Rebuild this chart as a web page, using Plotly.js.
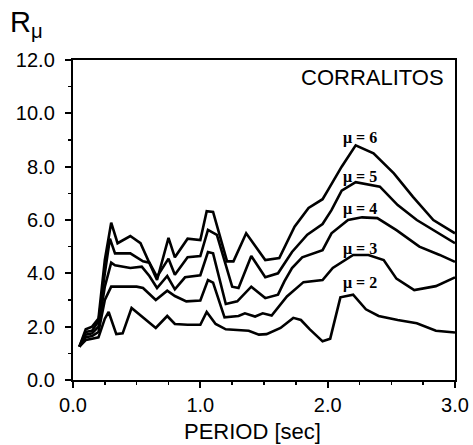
<!DOCTYPE html>
<html>
<head>
<meta charset="utf-8">
<script src="https://cdn.plot.ly/plotly-3.0.1.min.js"></script>
<style>html,body{margin:0;padding:0;background:#fff;}#chart{width:473px;height:445px;}</style>
</head>
<body>
<div id="chart"></div>
<script>
// Strength reduction factor R_mu vs period, CORRALITOS record
const periodMu2 = [0.05,0.1,0.15,0.2,0.25,0.28,0.34,0.39,0.46,0.55,0.65,0.74,0.8,0.9,1.0,1.05,1.12,1.2,1.3,1.38,1.46,1.52,1.63,1.73,1.79,1.86,1.96,2.02,2.1,2.2,2.3,2.4,2.55,2.7,2.85,3.0];
const rMu2      = [1.25,1.5,1.55,1.6,2.3,2.55,1.72,1.75,2.7,2.35,1.95,2.4,2.1,2.07,2.07,2.55,2.1,1.9,1.87,1.85,1.7,1.72,1.95,2.33,2.25,1.9,1.45,1.55,3.1,3.2,2.65,2.4,2.25,2.13,1.85,1.78];

const periodMu3 = [0.05,0.1,0.15,0.2,0.25,0.3,0.4,0.5,0.55,0.65,0.74,0.8,0.89,1.0,1.06,1.1,1.19,1.3,1.35,1.43,1.49,1.56,1.68,1.81,1.96,2.04,2.2,2.32,2.44,2.54,2.68,2.85,3.0];
const rMu3      = [1.25,1.6,1.65,1.8,3.0,3.5,3.5,3.5,3.45,3.0,3.35,3.15,2.95,2.98,3.75,3.65,2.35,2.4,2.5,2.38,2.5,2.42,3.13,3.67,3.75,4.2,4.69,4.69,4.5,3.8,3.37,3.52,3.85];

const periodMu4 = [0.05,0.1,0.15,0.2,0.25,0.3,0.33,0.45,0.54,0.6,0.66,0.74,0.8,0.88,1.0,1.06,1.1,1.2,1.29,1.4,1.51,1.61,1.66,1.72,1.8,1.96,2.03,2.16,2.27,2.39,2.54,2.72,2.88,3.0];
const rMu4      = [1.25,1.7,1.75,2.0,3.5,4.4,4.3,4.2,4.25,3.9,3.45,3.9,3.4,3.85,3.93,4.8,4.75,2.85,2.95,3.5,3.07,3.2,3.7,4.2,4.6,4.87,5.5,6.0,6.1,6.07,5.62,5.0,4.69,4.43];

const periodMu5 = [0.05,0.1,0.15,0.2,0.25,0.29,0.33,0.45,0.55,0.6,0.66,0.75,0.8,0.9,1.0,1.06,1.13,1.25,1.3,1.4,1.51,1.61,1.72,1.84,1.96,2.03,2.11,2.22,2.41,2.55,2.7,2.83,3.0];
const rMu5      = [1.25,1.8,1.85,2.2,4.0,5.3,4.75,4.75,4.45,4.4,3.87,4.55,3.95,4.6,4.65,5.63,5.44,3.5,3.45,4.65,3.85,4.0,4.8,5.45,5.85,6.37,7.1,7.42,7.25,6.56,6.0,5.62,5.13];

const periodMu6 = [0.05,0.1,0.15,0.2,0.25,0.3,0.35,0.45,0.53,0.66,0.75,0.8,0.9,1.0,1.05,1.1,1.21,1.26,1.36,1.51,1.62,1.74,1.85,1.96,2.0,2.11,2.22,2.36,2.52,2.67,2.83,3.0];
const rMu6      = [1.25,1.9,2.0,2.3,4.5,5.9,5.13,5.4,5.13,3.75,5.33,4.6,5.3,5.25,6.33,6.3,4.45,4.45,5.5,4.5,4.57,5.75,6.45,6.78,7.1,8.0,8.8,8.5,7.75,6.87,6.0,5.5];

const seriesNames = ['\u03bc = 2','\u03bc = 3','\u03bc = 4','\u03bc = 5','\u03bc = 6'];
const labelX = [2.25,2.25,2.25,2.25,2.25];
const labelY = [3.64,4.91,6.41,7.61,9.07];
const xTickVals = [0,1,2,3];
const yTickVals = [0,2,4,6,8,10,12];
const stationName = 'CORRALITOS';
const xTitle = 'PERIOD [sec]';
const yTitle = 'R<sub>\u03bc</sub>';

const periods = [periodMu2, periodMu3, periodMu4, periodMu5, periodMu6];
const values = [rMu2, rMu3, rMu4, rMu5, rMu6];

const traces = periods.map((p, i) => ({
  x: p, y: values[i], type: 'scatter', mode: 'lines', name: seriesNames[i],
  line: {color: '#000', width: 2.6, shape: 'linear'}, hoverinfo: 'skip'
}));

const sans = 'Liberation Sans, Arial, sans-serif';
const annotations = seriesNames.map((n, i) => ({
  x: labelX[i], y: labelY[i], xref: 'x', yref: 'y', text: n, showarrow: false,
  font: {family: 'Liberation Serif, Times New Roman, serif', size: 16, color: '#000', weight: 'bold'}
}));
annotations.push({x: 2.93, y: 11.36, xref: 'x', yref: 'y', text: stationName, showarrow: false,
  xanchor: 'right', font: {family: sans, size: 22, color: '#000'}});
annotations.push({x: 0.471, y: -0.117, xref: 'paper', yref: 'paper', text: xTitle, showarrow: false,
  yanchor: 'top', font: {family: sans, size: 22, color: '#000'}});
annotations.push({x: -0.17, y: 1.05, xref: 'paper', yref: 'paper', text: yTitle, showarrow: false,
  xanchor: 'left', yanchor: 'bottom', font: {family: sans, size: 29, color: '#000'}});

const axisCommon = {
  showline: true, mirror: true, linecolor: '#000', linewidth: 2.2,
  showgrid: false, zeroline: false, ticks: 'outside', ticklen: 6, tickwidth: 2, tickcolor: '#000',
  tickfont: {family: sans, size: 20, color: '#000'}, tickformat: '.1f', fixedrange: true
};

const layout = {
  width: 473, height: 445,
  margin: {l: 73, r: 18, t: 60, b: 65},
  paper_bgcolor: '#fff', plot_bgcolor: '#fff',
  showlegend: false,
  xaxis: Object.assign({}, axisCommon, {range: [0, 3], tickvals: xTickVals,
    minor: {dtick: 0.25, ticks: 'outside', ticklen: 3, tickwidth: 1.5, tickcolor: '#000'}}),
  yaxis: Object.assign({}, axisCommon, {range: [0, 12], tickvals: yTickVals, ticklabelstandoff: 6,
    minor: {dtick: 1, ticks: 'outside', ticklen: 3, tickwidth: 1.5, tickcolor: '#000'}}),
  annotations: annotations
};

Plotly.newPlot('chart', traces, layout, {displayModeBar: false, staticPlot: true});
</script>
</body>
</html>
